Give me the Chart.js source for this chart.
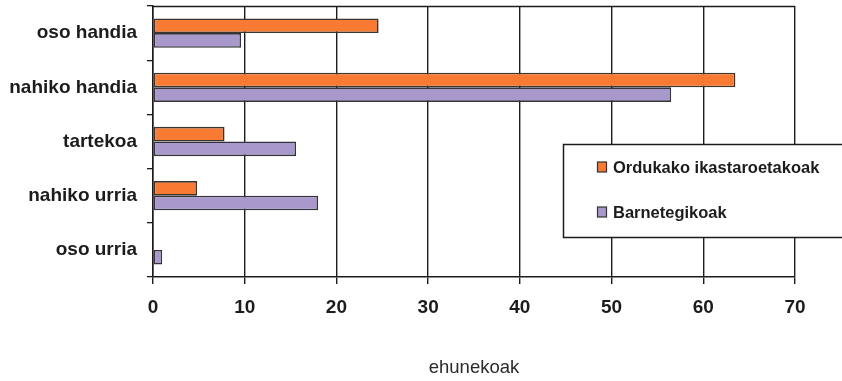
<!DOCTYPE html>
<html>
<head>
<meta charset="utf-8">
<script src="https://cdn.jsdelivr.net/npm/chart.js@4/dist/chart.umd.min.js"></script>
<style>
  html, body { margin: 0; padding: 0; background: #ffffff; }
  #wrap { width: 842px; height: 381px; position: relative; }
</style>
</head>
<body>
<div id="wrap"><canvas id="c" width="842" height="381"></canvas></div>
<script>
// Categories (top to bottom) and the two series, in percent
const categories = ['oso handia', 'nahiko handia', 'tartekoa', 'nahiko urria', 'oso urria'];
const ordukakoValues = [24.6, 63.5, 7.8, 4.8, 0];
const barnetegiValues = [9.6, 56.5, 15.6, 18.0, 1.0];
const seriesNames = ['Ordukako ikastaroetakoak', 'Barnetegikoak'];
const xTicks = [0, 10, 20, 30, 40, 50, 60, 70];
const axisTitle = 'ehunekoak';

const ORANGE = '#f97b33';
const PURPLE = '#a898cc';
const INK = '#1c1c1c';

// Frame line along the top of the plot area
const topFrame = {
  id: 'topFrame',
  afterDatasetsDraw(chart) {
    const { ctx, chartArea: a } = chart;
    ctx.save();
    ctx.strokeStyle = INK;
    ctx.lineWidth = 1.5;
    ctx.beginPath();
    ctx.moveTo(a.left, a.top + 0.5);
    ctx.lineTo(a.right, a.top + 0.5);
    ctx.stroke();
    ctx.restore();
  }
};

// Boxed legend sitting over the right side of the plot
const boxLegend = {
  id: 'boxLegend',
  afterDraw(chart) {
    const { ctx } = chart;
    const bx = 563.5, by = 144.5, bw = 300, bh = 93;
    ctx.save();
    ctx.fillStyle = '#ffffff';
    ctx.fillRect(bx, by, bw, bh);
    ctx.strokeStyle = INK;
    ctx.lineWidth = 1.5;
    ctx.strokeRect(bx, by, bw, bh);
    ctx.font = 'bold 16.5px "Liberation Sans", Arial, sans-serif';
    ctx.textBaseline = 'middle';
    ctx.textAlign = 'left';
    const rows = [167, 212];
    chart.data.datasets.forEach((ds, i) => {
      const y = rows[i];
      ctx.fillStyle = ds.backgroundColor;
      ctx.fillRect(597.5, y - 5, 9, 10);
      ctx.strokeStyle = '#333';
      ctx.lineWidth = 1.2;
      ctx.strokeRect(597.5, y - 5, 9, 10);
      ctx.fillStyle = INK;
      ctx.fillText(ds.label, 613, y + 1);
    });
    ctx.restore();
  }
};

new Chart(document.getElementById('c'), {
  type: 'bar',
  data: {
    labels: categories,
    datasets: [
      {
        label: seriesNames[0],
        data: ordukakoValues,
        backgroundColor: ORANGE,
        borderColor: '#3b3530',
        borderWidth: 1.6,
        borderSkipped: false,
        categoryPercentage: 0.54,
        barPercentage: 1.0
      },
      {
        label: seriesNames[1],
        data: barnetegiValues,
        backgroundColor: PURPLE,
        borderColor: '#34333a',
        borderWidth: 1.6,
        borderSkipped: false,
        categoryPercentage: 0.54,
        barPercentage: 1.0
      }
    ]
  },
  options: {
    indexAxis: 'y',
    responsive: false,
    animation: false,
    devicePixelRatio: 1,
    layout: { padding: { top: 6, right: 47, bottom: 0, left: 0 } },
    plugins: {
      legend: { display: false },
      tooltip: { enabled: false }
    },
    scales: {
      x: {
        type: 'linear',
        min: 0,
        max: 70,
        z: 1,
        afterBuildTicks(scale) {
          scale.ticks = xTicks.map(v => ({ value: v }));
        },
        afterFit(scale) { scale.height = 104; },
        grid: {
          color: INK,
          lineWidth: 1.4,
          drawTicks: true,
          tickLength: 7,
          tickColor: INK
        },
        border: { display: true, color: INK, width: 1.5 },
        ticks: {
          color: INK,
          padding: 12,
          font: { family: '"Liberation Sans", Arial, sans-serif', size: 19, weight: 'bold' }
        },
        title: {
          display: true,
          text: axisTitle,
          color: '#2a2a2a',
          padding: { top: 0, bottom: 2 },
          font: { family: '"Liberation Sans", Arial, sans-serif', size: 18.5, weight: 'normal' }
        }
      },
      y: {
        type: 'category',
        afterFit(scale) {
          scale.width = 153;
          scale.paddingTop = 0;
          scale.paddingBottom = 0;
        },
        grid: {
          offset: true,
          drawOnChartArea: false,
          drawTicks: true,
          tickLength: 6,
          color: INK,
          lineWidth: 1.3
        },
        border: { display: true, color: INK, width: 1.5 },
        ticks: {
          color: INK,
          padding: 10,
          font: { family: '"Liberation Sans", Arial, sans-serif', size: 19, weight: 'bold' }
        }
      }
    }
  },
  plugins: [topFrame, boxLegend]
});
</script>
</body>
</html>
